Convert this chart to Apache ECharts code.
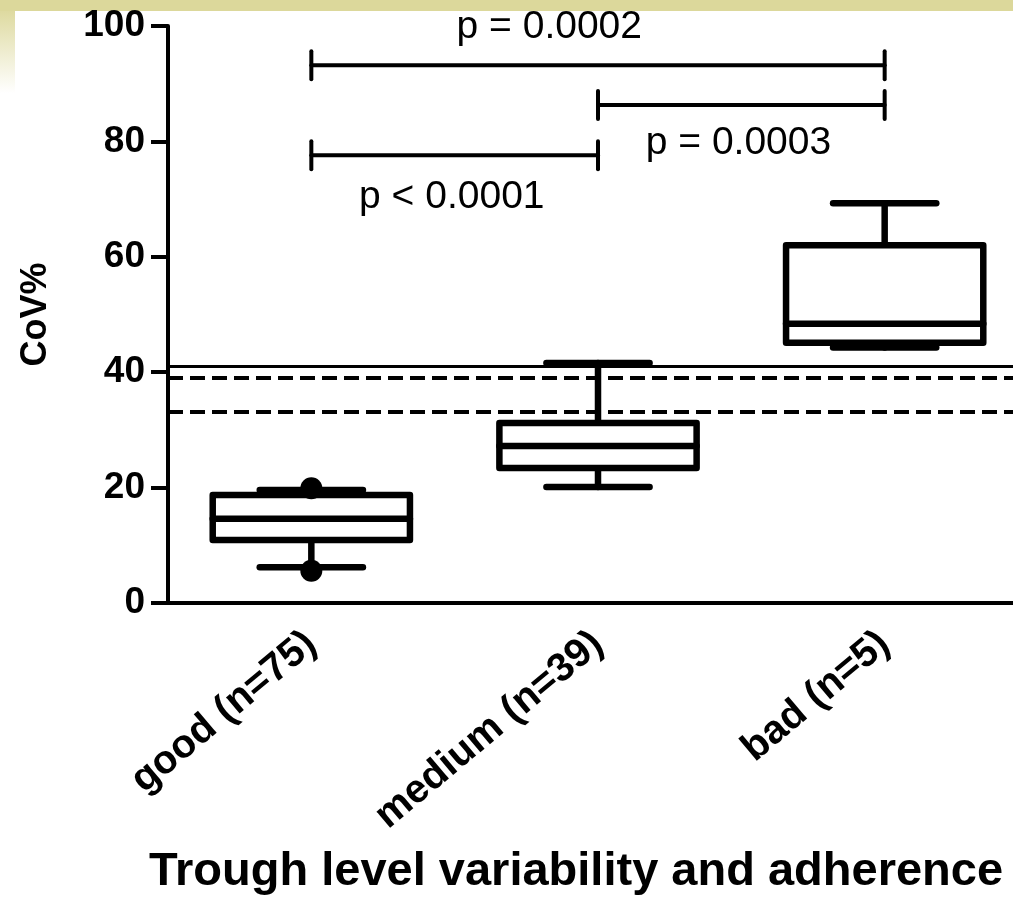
<!DOCTYPE html>
<html>
<head>
<meta charset="utf-8">
<script src="https://cdn.jsdelivr.net/npm/echarts@6/dist/echarts.min.js"></script>
<style>
  html, body { margin: 0; padding: 0; background: #ffffff; overflow: hidden; }
  #chart { width: 1028px; height: 904px; }
</style>
</head>
<body>
<div id="chart"></div>
<script>
// Groups on the x axis
const categories = ['good (n=75)', 'medium (n=39)', 'bad (n=5)'];

// Box statistics per group (CoV %)
const whiskerLow  = [6.2, 20.1, 44.3];
const q1          = [10.9, 23.4, 45.1];
const median      = [14.6, 27.2, 48.4];
const q3          = [18.7, 31.2, 62.0];
const whiskerHigh = [19.6, 41.6, 69.3];

// Individual points beyond the whiskers
const outlierGroup = [0, 0];
const outlierValue = [19.9, 5.6];

// Horizontal threshold lines (CoV %)
const thresholdSolid  = [41.1];
const thresholdDashed = [39.0, 33.2];

// Pairwise comparisons: bracket spans (group index) and bracket height (CoV %)
const bracketFrom = [0, 1, 0];
const bracketTo   = [2, 2, 1];
const bracketY    = [93.2, 86.3, 77.6];

// p-value annotations and their anchor (group position, CoV %)
const pText  = ['p = 0.0002', 'p = 0.0003', 'p < 0.0001'];
const pTextX = [0.83, 1.49, 0.49];
const pTextY = [99.8, 79.7, 70.3];

// Y axis scale
const yMin = 0, yMax = 100, yStep = 20;

const FONT = "'Liberation Sans', Arial, Helvetica, sans-serif";

const boxData = categories.map((c, i) =>
  [i, whiskerLow[i], q1[i], median[i], q3[i], whiskerHigh[i]]);
const outlierData = outlierGroup.map((g, i) => [g, outlierValue[i]]);
const bracketData = bracketFrom.map((f, i) => [f, bracketTo[i], bracketY[i]]);
const pData = pText.map((t, i) => [pTextX[i], pTextY[i], i]);

const chart = echarts.init(document.getElementById('chart'), null, { renderer: 'canvas' });

const thresholdLines = thresholdSolid.map(v => ({
  yAxis: v, lineStyle: { type: 'solid', width: 3, color: '#000' }
})).concat(thresholdDashed.map(v => ({
  yAxis: v, lineStyle: { type: [15, 7], width: 4, color: '#000' }
})));

chart.setOption({
  animation: false,
  backgroundColor: '#ffffff',
  graphic: [
    { type: 'rect', left: 0, top: 0, shape: { width: 1028, height: 11 },
      style: { fill: '#dcd89b' }, z: -10 },
    { type: 'rect', left: 0, top: 11, shape: { width: 15, height: 82 },
      style: {
        fill: new echarts.graphic.LinearGradient(0, 0, 0, 1, [
          { offset: 0, color: '#dedaa0' },
          { offset: 1, color: '#ffffff' }
        ])
      }, z: -10 }
  ],
  grid: { left: 168, top: 26, bottom: 301, right: 0, containLabel: false },
  xAxis: [
    {
      type: 'category',
      data: categories,
      boundaryGap: true,
      axisLine: { onZero: false, lineStyle: { color: '#000', width: 4 } },
      axisTick: { alignWithLabel: true, length: 12, lineStyle: { color: '#000', width: 4 } },
      axisLabel: {
        interval: 0, rotate: 40, margin: 36,
        color: '#000', fontFamily: FONT, fontWeight: 'bold', fontSize: 40
      },
      splitLine: { show: false },
      name: 'Trough level variability and adherence',
      nameLocation: 'middle',
      nameGap: 246,
      nameTextStyle: {
        color: '#000', fontFamily: FONT, fontWeight: 'bold', fontSize: 47,
        padding: [0, 44, 0, 0]
      }
    },
    {
      type: 'value', min: -0.5, max: 2.5, show: false, gridIndex: 0,
      axisLine: { onZero: false }
    }
  ],
  yAxis: {
    type: 'value',
    min: yMin, max: yMax, interval: yStep,
    axisLine: { show: true, onZero: false, lineStyle: { color: '#000', width: 4 } },
    axisTick: { show: true, length: 17, lineStyle: { color: '#000', width: 4 } },
    axisLabel: { margin: 23, color: '#000', fontFamily: FONT, fontWeight: 'bold', fontSize: 37 },
    splitLine: { show: false },
    name: 'CoV%',
    nameLocation: 'middle',
    nameGap: 114,
    nameTextStyle: { color: '#000', fontFamily: FONT, fontWeight: 'bold', fontSize: 36 }
  },
  series: [
    {
      // threshold lines across the plot
      type: 'line',
      data: [],
      silent: true,
      z: 1,
      markLine: {
        silent: true,
        symbol: ['none', 'none'],
        label: { show: false },
        data: thresholdLines
      }
    },
    {
      type: 'custom',
      name: 'boxes',
      xAxisIndex: 0,
      z: 3,
      data: boxData,
      renderItem: function (params, api) {
        const i = api.value(0);
        const pLo = api.coord([i, api.value(1)]);
        const pQ1 = api.coord([i, api.value(2)]);
        const pMed = api.coord([i, api.value(3)]);
        const pQ3 = api.coord([i, api.value(4)]);
        const pHi = api.coord([i, api.value(5)]);
        const band = api.size([1, 0])[0];
        const halfBox = band * 0.344;
        const halfCap = band * 0.18;
        const x = pMed[0];
        const st = { stroke: '#000', lineWidth: 6.5, lineCap: 'round', lineJoin: 'round', fill: null };
        return {
          type: 'group',
          children: [
            { type: 'line', shape: { x1: x, y1: pHi[1], x2: x, y2: pQ3[1] }, style: st },
            { type: 'line', shape: { x1: x, y1: pQ1[1], x2: x, y2: pLo[1] }, style: st },
            { type: 'line', shape: { x1: x - halfCap, y1: pHi[1], x2: x + halfCap, y2: pHi[1] }, style: st },
            { type: 'line', shape: { x1: x - halfCap, y1: pLo[1], x2: x + halfCap, y2: pLo[1] }, style: st },
            { type: 'rect',
              shape: { x: x - halfBox, y: pQ3[1], width: 2 * halfBox, height: pQ1[1] - pQ3[1] },
              style: { stroke: '#000', lineWidth: 6.5, lineJoin: 'round', fill: '#ffffff' } },
            { type: 'line', shape: { x1: x - halfBox, y1: pMed[1], x2: x + halfBox, y2: pMed[1] }, style: st }
          ]
        };
      }
    },
    {
      type: 'scatter',
      xAxisIndex: 0,
      z: 4,
      symbol: 'circle',
      symbolSize: 22,
      itemStyle: { color: '#000', opacity: 1 },
      data: outlierData
    },
    {
      type: 'custom',
      name: 'brackets',
      xAxisIndex: 1,
      z: 3,
      data: bracketData,
      renderItem: function (params, api) {
        const y = api.value(2);
        const p1 = api.coord([api.value(0), y]);
        const p2 = api.coord([api.value(1), y]);
        const h = 14;
        const st = { stroke: '#000', lineWidth: 4, lineCap: 'round' };
        return {
          type: 'group',
          children: [
            { type: 'line', shape: { x1: p1[0], y1: p1[1], x2: p2[0], y2: p2[1] }, style: st },
            { type: 'line', shape: { x1: p1[0], y1: p1[1] - h, x2: p1[0], y2: p1[1] + h }, style: st },
            { type: 'line', shape: { x1: p2[0], y1: p2[1] - h, x2: p2[0], y2: p2[1] + h }, style: st }
          ]
        };
      }
    },
    {
      type: 'custom',
      name: 'p-values',
      xAxisIndex: 1,
      z: 3,
      data: pData,
      renderItem: function (params, api) {
        const p = api.coord([api.value(0), api.value(1)]);
        return {
          type: 'text',
          style: {
            x: p[0], y: p[1],
            text: pText[api.value(2)],
            align: 'center', verticalAlign: 'middle',
            fill: '#000', font: '39px ' + FONT
          }
        };
      }
    }
  ]
});
</script>
</body>
</html>
